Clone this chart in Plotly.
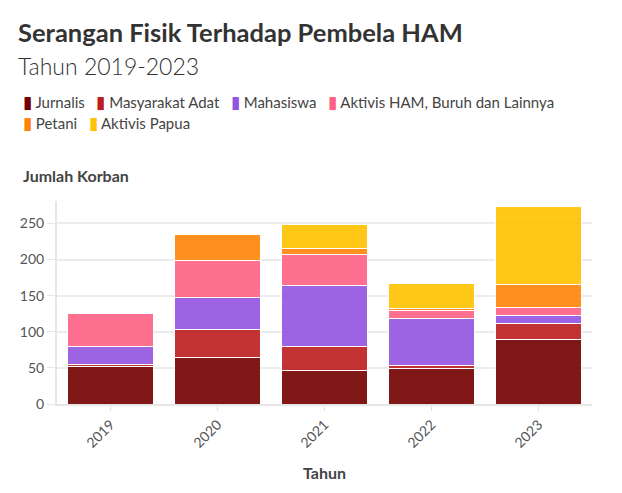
import plotly.graph_objects as go

# data
tahun = ["2019", "2020", "2021", "2022", "2023"]
jurnalis = [52, 65, 47, 49, 89]
masyarakat_adat = [3, 38, 33, 4, 23]
mahasiswa = [25, 44, 84, 65, 10]
aktivis_ham = [45, 51, 43, 11, 12]
petani = [0, 37, 8, 3, 31]
aktivis_papua = [0, 0, 33, 35, 108]

# (name, values, colour, legend row)
series = [
    ("Jurnalis", jurnalis, "#730000", 0),
    ("Masyarakat Adat", masyarakat_adat, "#be1d1d", 0),
    ("Mahasiswa", mahasiswa, "#9254e0", 0),
    ("Aktivis HAM, Buruh dan Lainnya", aktivis_ham, "#ff6084", 0),
    ("Petani", petani, "#ff8307", 1),
    ("Aktivis Papua", aktivis_papua, "#ffc200", 1),
]

font = "Source Sans Pro, Lato, sans-serif"

# page body has an 8px margin, so layout positions are shifted by -8px
fig = go.Figure()
for name, vals, color, row in series:
    fig.add_trace(go.Bar(
        x=tahun,
        y=vals,
        name=name,
        marker_color=color,
        marker_line_color="white",
        marker_line_width=1,
        opacity=0.9,
        showlegend=False,
    ))

# plotly's own legend pads entries too widely, so the legend is written as text
nb = "\u00a0"
legend_rows = ["", ""]
for name, vals, color, row in series:
    legend_rows[row] += (f"<span style='color:{color};font-size:17px'>▮</span>"
                         f"<span style='font-size:15px'>{nb}{name}{nb}{nb}{nb}</span>")

plot_top, plot_h, plot_left, plot_w = 193, 203, 46, 538
annotations = [
    dict(
        text="<br>".join(legend_rows),
        xref="paper", yref="paper",
        x=(10 - plot_left) / plot_w, y=1 + (plot_top - 104) / plot_h,
        xanchor="left", yanchor="middle", align="left",
        showarrow=False,
        font=dict(size=16, color="#444"),
    ),
    dict(
        text="<b>Jumlah Korban</b>",
        xref="paper", yref="paper",
        x=(10 - plot_left) / plot_w, y=1 + 26 / plot_h,
        xanchor="left", yanchor="middle",
        showarrow=False,
        font=dict(size=16, color="#444"),
    ),
]

fig.update_layout(
    barmode="stack",
    bargap=0.2,
    width=622,
    height=493,
    paper_bgcolor="white",
    plot_bgcolor="white",
    font=dict(family=font, color="#555", size=14),
    margin=dict(l=46, r=38, t=193, b=97),
    title=dict(
        text="<b>Serangan Fisik Terhadap Pembela HAM</b><br>"
             "<span style='font-size:23px;font-weight:300'>Tahun 2019-2023</span>",
        font=dict(size=25.5, color="#333", family=font),
        xref="container", x=10 / 622, xanchor="left",
        yref="container", y=1 - 34 / 493, yanchor="top",
    ),
    annotations=annotations,
)

fig.update_xaxes(
    title=dict(text="<b>Tahun</b>", font=dict(size=16, color="#444"), standoff=18),
    tickangle=-45,
    ticks="outside",
    ticklen=5,
    tickcolor="#e0e0e0",
    showline=True,
    linecolor="#e6e6e6",
    linewidth=2,
    tickfont=dict(size=14, color="#555"),
)

fig.update_yaxes(
    range=[0, 281],
    dtick=50,
    showgrid=True,
    gridcolor="#ececec",
    gridwidth=2,
    zeroline=False,
    showline=True,
    linecolor="#e6e6e6",
    linewidth=2,
    ticks="outside",
    ticklen=8,
    tickcolor="#e6e6e6",
    tickfont=dict(size=14, color="#555"),
)

fig.write_html("out.html")
